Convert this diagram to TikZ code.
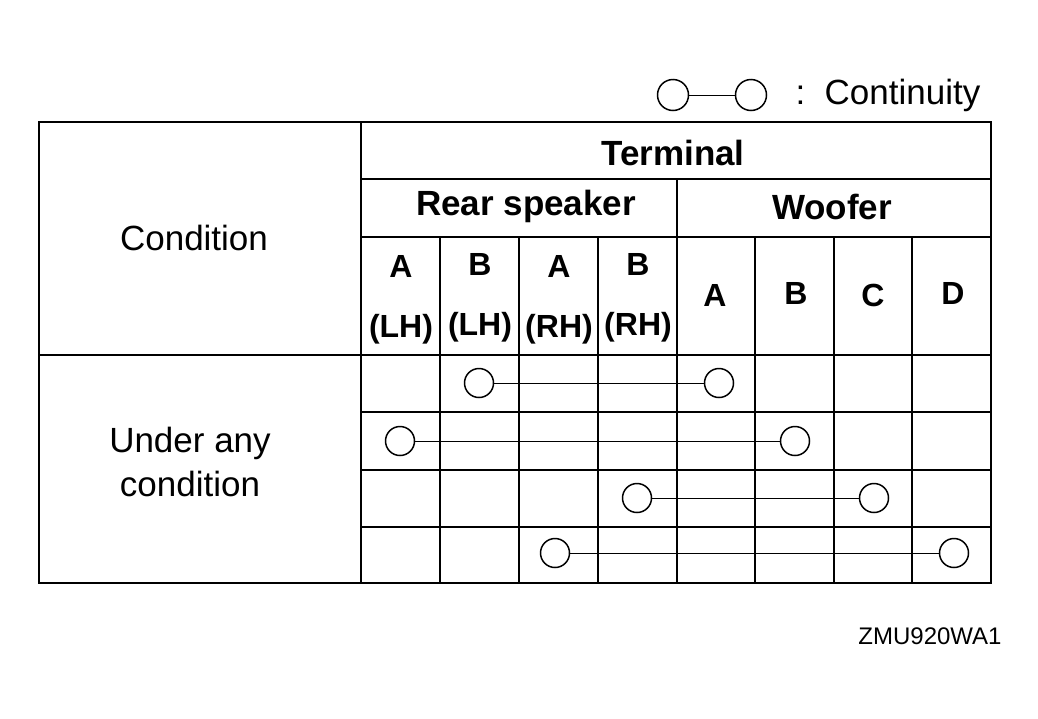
\documentclass[tikz,border=0pt]{standalone}
\usepackage{fontspec}
\setmainfont{Liberation Sans}
\begin{document}
\begin{tikzpicture}[x=1pt,y=-1pt,
  ln/.style={line width=1.8pt},
  cir/.style={circle,draw,line width=1.5pt,minimum size=29pt,inner sep=0pt,fill=white},
  lbl/.style={font=\fontsize{35}{38}\selectfont},
  hd/.style={font=\fontsize{35}{38}\selectfont\bfseries,align=center},
  col/.style={font=\fontsize{32}{60}\selectfont\bfseries,align=center}]
\useasboundingbox (0,0) rectangle (1038,718);
% grid
\draw[ln] (39,122) rectangle (991,583);
\draw[ln] (361,122) -- (361,583);
\draw[ln] (361,179) -- (991,179);
\draw[ln] (361,237) -- (991,237);
\draw[ln] (39,355) -- (991,355);
\draw[ln] (677,179) -- (677,583);
\foreach \x in {440,519,598,755,834,912} \draw[ln] (\x,237) -- (\x,583);
\foreach \y in {412,470,527} \draw[ln] (361,\y) -- (991,\y);
% headers
\node[lbl] (cond) at (194,238) {Condition};
\node[lbl,align=center,font=\fontsize{35}{44}\selectfont] (uac) at (190,462) {Under any\\condition};
\node[hd] (term) at (673,153) {Terminal};
\node[hd] (rs) at (526,206) {Rear speaker};
\node[hd] (wf) at (832,207) {Woofer};
\node[col] (c1) at (401,300) {A\\(LH)};
\node[col] (c2) at (480,298) {B\\(LH)};
\node[col] (c3) at (559,300) {A\\(RH)};
\node[col] (c4) at (638,298) {B\\(RH)};
\node[hd,font=\fontsize{32}{38}\selectfont\bfseries] (c5) at (715,295) {A};
\node[hd,font=\fontsize{32}{38}\selectfont\bfseries] (c6) at (796,293) {B};
\node[hd,font=\fontsize{32}{38}\selectfont\bfseries] (c7) at (873,295) {C};
\node[hd,font=\fontsize{32}{38}\selectfont\bfseries] (c8) at (953,293) {D};
% continuity
\node[cir] (r1a) at (479,383) {}; \node[cir] (r1b) at (719,383) {};
\node[cir] (r2a) at (400,441) {}; \node[cir] (r2b) at (795,441) {};
\node[cir] (r3a) at (637,498) {}; \node[cir] (r3b) at (874,498) {};
\node[cir] (r4a) at (555,553) {}; \node[cir] (r4b) at (954,553) {};
\draw[line width=1pt] (r1a) -- (r1b);
\draw[line width=1pt] (r2a) -- (r2b);
\draw[line width=1pt] (r3a) -- (r3b);
\draw[line width=1pt] (r4a) -- (r4b);
% legend
\node[cir,minimum size=31pt] (la) at (673,95) {}; \node[cir,minimum size=31pt] (lb) at (751,95) {};
\draw[line width=1pt] (la) -- (lb);
\node[lbl,anchor=west] (lt) at (792,95) {:\ \ Continuity};
\node[font=\fontsize{24}{26}\selectfont] (id) at (930,636) {ZMU920WA1};
\end{tikzpicture}
\end{document}
